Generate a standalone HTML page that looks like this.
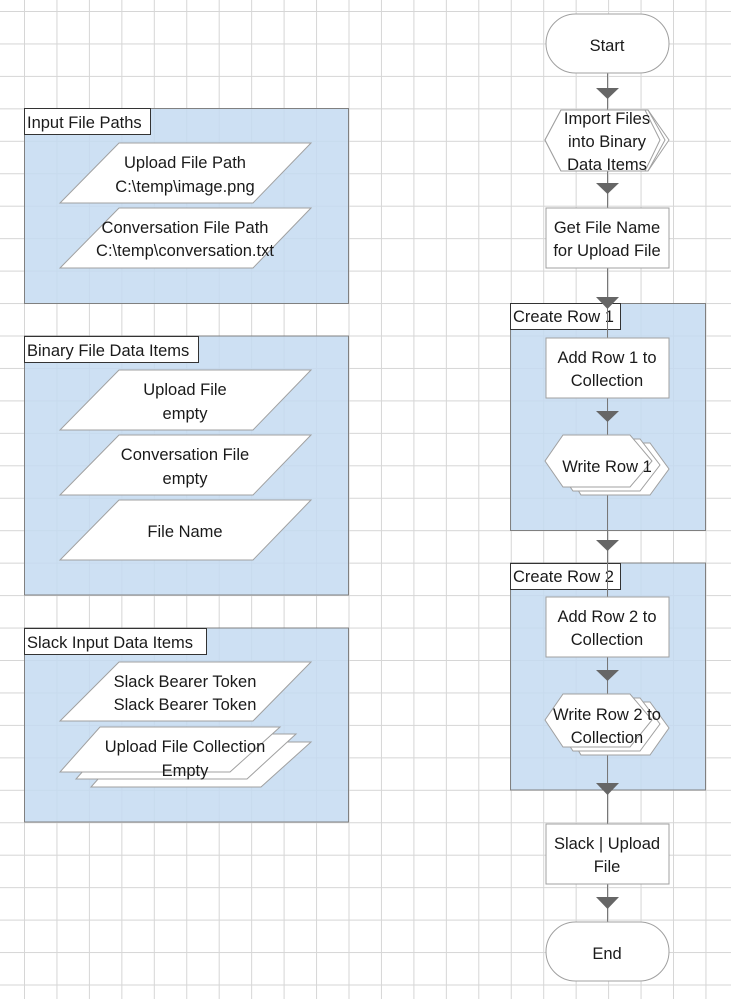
<!DOCTYPE html>
<html><head><meta charset="utf-8"><style>
html,body{margin:0;padding:0;background:#fff;}
svg{display:block;}
text{font-family:"Liberation Sans",sans-serif;font-size:16.5px;fill:#1a1a1a;text-anchor:middle;}
.lbl{text-anchor:start;}
</style></head><body>
<svg width="731" height="999" viewBox="0 0 731 999" xmlns="http://www.w3.org/2000/svg">
<defs>
<pattern id="g" patternUnits="userSpaceOnUse" x="24" y="11" width="32.45" height="32.45">
<path d="M0 0H32.45M0 0V32.45" stroke="#d6d6d6" stroke-width="2" fill="none"/>
</pattern>
</defs>
<rect width="731" height="999" fill="#fff"/>
<rect width="731" height="999" fill="url(#g)"/>

<!-- blocks -->
<g fill="#c4daf1" fill-opacity="0.85" stroke="#808080" stroke-width="1">
<rect x="24.5" y="108.5" width="324" height="195"/>
<rect x="24.5" y="336" width="324" height="259"/>
<rect x="24.5" y="628" width="324" height="194"/>
<rect x="510.5" y="303.5" width="195" height="227"/>
<rect x="510.5" y="563" width="195" height="227"/>
</g>
<g fill="#fff" stroke="#333" stroke-width="1">
<rect x="24.5" y="108.5" width="126" height="26"/>
<rect x="24.5" y="336.5" width="174" height="26"/>
<rect x="24.5" y="628.5" width="182" height="26"/>
<rect x="510.5" y="303.5" width="110" height="26"/>
<rect x="510.5" y="563.5" width="110" height="26"/>
</g>
<text class="lbl" x="27" y="128">Input File Paths</text>
<text class="lbl" x="27" y="356">Binary File Data Items</text>
<text class="lbl" x="27" y="648">Slack Input Data Items</text>
<text class="lbl" x="513" y="322">Create Row 1</text>
<text class="lbl" x="513" y="582">Create Row 2</text>

<!-- left parallelograms -->
<g fill="#fff" stroke="#a0a0a0" stroke-width="1">
<polygon points="119,143 311,143 253,203 60,203"/>
<polygon points="119,208 311,208 253,268 60,268"/>
<polygon points="119,370 311,370 253,430 60,430"/>
<polygon points="119,435 311,435 253,495 60,495"/>
<polygon points="119,500 311,500 253,560 60,560"/>
<polygon points="119,662 311,662 253,721 60,721"/>
<polygon points="131,742 311,742 261,787 91,787"/>
<polygon points="116,734 296,734 247,779 76,779"/>
<polygon points="100,727 280,727 230,772 60,772"/>
</g>
<text x="185" y="168">Upload File Path</text>
<text x="185" y="192">C:\temp\image.png</text>
<text x="185" y="233">Conversation File Path</text>
<text x="185" y="256">C:\temp\conversation.txt</text>
<text x="185" y="395">Upload File</text>
<text x="185" y="419">empty</text>
<text x="185" y="460">Conversation File</text>
<text x="185" y="484">empty</text>
<text x="185" y="537">File Name</text>
<text x="185" y="687">Slack Bearer Token</text>
<text x="185" y="710">Slack Bearer Token</text>
<text x="185" y="752">Upload File Collection</text>
<text x="185" y="776">Empty</text>

<!-- connector -->
<line x1="607.5" y1="73" x2="607.5" y2="922" stroke="#777" stroke-width="1"/>

<g fill="#fff" stroke="#a0a0a0" stroke-width="1">
<rect x="546" y="14" width="123" height="59" rx="29.5"/>
<!-- import hex -->
<polygon points="561,118 648,118 669,148 648,179 561,179 545,148" transform="translate(0,-8)"/>
<polygon points="561,114 648,114 665,144 648,175 561,175 545,144" transform="translate(0,-4)"/>
<polygon points="561,110 645,110 660,140 645,171 561,171 545,140"/>
<rect x="546" y="208" width="123" height="60"/>
<rect x="546" y="338" width="123" height="60"/>
<polygon points="581,443 650,443 669,469 650,495 581,495 565,469"/>
<polygon points="573,439 640,439 660,465 640,491 573,491 555,465"/>
<polygon points="563,435 630,435 652,461 630,487 563,487 545,461"/>
<rect x="546" y="597" width="123" height="60"/>
<polygon points="581,702 650,702 669,728 650,755 581,755 565,728"/>
<polygon points="573,698 640,698 660,724 640,751 573,751 555,724"/>
<polygon points="563,694 630,694 652,720 630,747 563,747 545,720"/>
<rect x="546" y="824" width="123" height="60"/>
<rect x="546" y="922" width="123" height="59" rx="29.5"/>
</g>
<g fill="#666">
<polygon points="596,88 619,88 607.5,99"/>
<polygon points="596,183 619,183 607.5,194"/>
<polygon points="596,297 619,297 607.5,309"/>
<polygon points="596,411 619,411 607.5,422"/>
<polygon points="596,540 619,540 607.5,551"/>
<polygon points="596,670 619,670 607.5,681"/>
<polygon points="596,783 619,783 607.5,795"/>
<polygon points="596,897 619,897 607.5,909"/>
</g>
<text x="607" y="51">Start</text>
<text x="607" y="124">Import Files</text>
<text x="607" y="147">into Binary</text>
<text x="607" y="170">Data Items</text>
<text x="607" y="233">Get File Name</text>
<text x="607" y="256">for Upload File</text>
<text x="607" y="363">Add Row 1 to</text>
<text x="607" y="386">Collection</text>
<text x="607" y="472">Write Row 1</text>
<text x="607" y="622">Add Row 2 to</text>
<text x="607" y="645">Collection</text>
<text x="607" y="720">Write Row 2 to</text>
<text x="607" y="743">Collection</text>
<text x="607" y="849">Slack | Upload</text>
<text x="607" y="872">File</text>
<text x="607" y="959">End</text>
</svg>
</body></html>
